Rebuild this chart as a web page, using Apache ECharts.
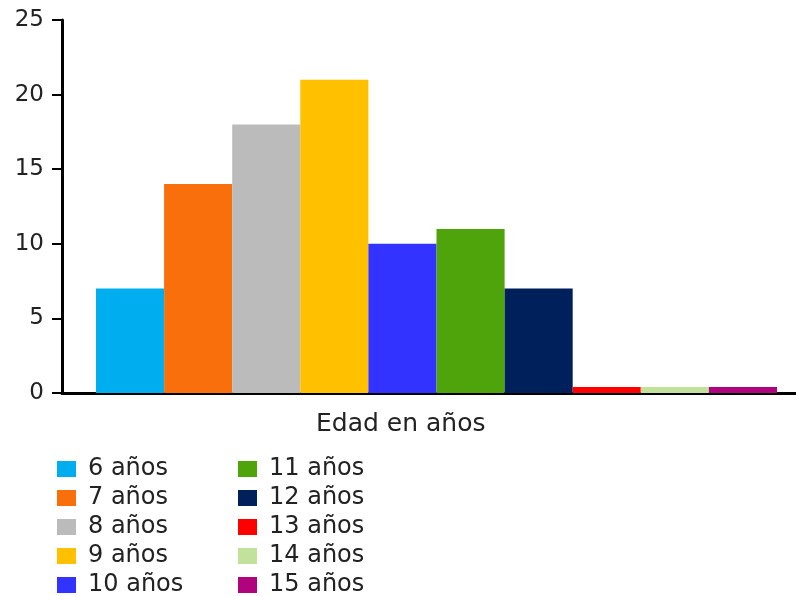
<!DOCTYPE html>
<html>
<head>
<meta charset="utf-8">
<script src="https://cdn.jsdelivr.net/npm/echarts@6/dist/echarts.min.js"></script>
<style>
  html, body { margin: 0; padding: 0; background: #fff; }
  #chart { width: 796px; height: 596px; }
</style>
</head>
<body>
<div id="chart"></div>
<script>
// ---------------------- Data ----------------------
let categories = ["Edad en años"];
let series_names = ["6 años", "7 años", "8 años", "9 años", "10 años",
                    "11 años", "12 años", "13 años", "14 años", "15 años"];
let series_values = [7, 14, 18, 21, 10, 11, 7, 0, 0, 0];
let series_colors = ["#00aeef", "#f96f0b", "#bbbbbb", "#ffc000", "#3333ff",
                     "#4fa30b", "#00205b", "#ff0000", "#c2e19a", "#b0047f"];
let y_ticks = [0, 5, 10, 15, 20, 25];

let font = "DejaVu Sans, Verdana, sans-serif";
let text_color = "#222";

// ---------------------- Chart ----------------------
let chart_dom = document.getElementById("chart");
let chart = echarts.init(chart_dom);

let bar_series = series_names.map(function (name, i) {
    return {
        type: "bar",
        name: name,
        data: [series_values[i]],
        itemStyle: {color: series_colors[i]},
        barGap: "0%",
        barCategoryGap: "9.08%",
        barMinHeight: 6,
        animation: false
    };
});

let legend_base = {
    orient: "vertical",
    icon: "rect",
    itemWidth: 19,
    itemHeight: 16,
    itemGap: 5,
    top: 457,
    height: 150,
    padding: 0,
    textStyle: {fontFamily: font, fontSize: 24, color: text_color, padding: [0, 0, 0, 7]},
    selectedMode: false
};

let option = {
    backgroundColor: "#fff",
    animation: false,
    title: {
        text: categories[0],
        left: 316,
        top: 412,
        padding: 0,
        textStyle: {fontFamily: font, fontSize: 25, fontWeight: "normal", color: text_color}
    },
    legend: [
        Object.assign({}, legend_base, {left: 57, data: series_names.slice(0, 5)}),
        Object.assign({}, legend_base, {left: 238, data: series_names.slice(5)})
    ],
    grid: {left: 62, right: -15, top: 20, bottom: 203, containLabel: false, outerBoundsMode: "none"},
    xAxis: {
        type: "category",
        data: categories,
        axisLine: {lineStyle: {color: "#000", width: 3}},
        axisTick: {show: false},
        axisLabel: {show: false}
    },
    yAxis: {
        type: "value",
        min: y_ticks[0],
        max: y_ticks[y_ticks.length - 1],
        interval: 5,
        splitLine: {show: false},
        axisLine: {show: true, lineStyle: {color: "#000", width: 3}},
        axisTick: {show: true, length: 10, lineStyle: {color: "#000", width: 2}},
        axisLabel: {fontFamily: font, fontSize: 23, color: text_color, margin: 18}
    },
    series: bar_series
};
chart.setOption(option);
</script>
</body>
</html>
